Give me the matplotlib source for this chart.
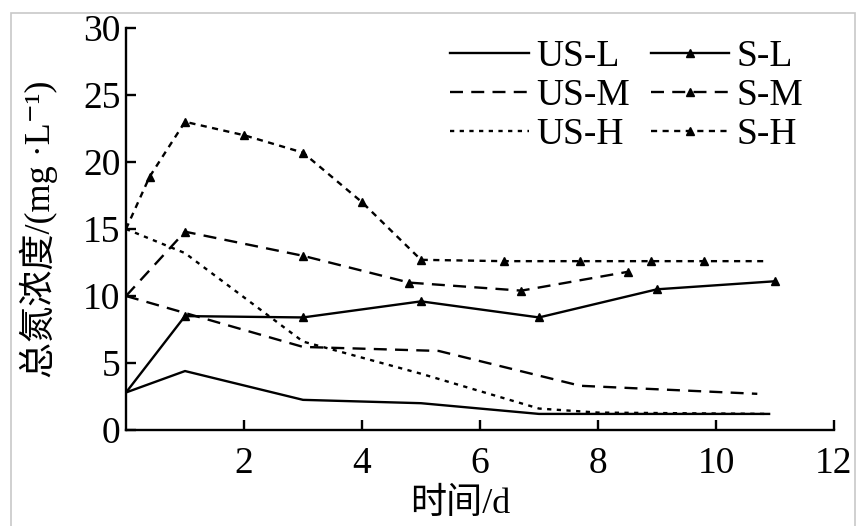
import matplotlib
matplotlib.use('Agg')
import matplotlib.pyplot as plt
from matplotlib.patches import Rectangle

plt.rcParams['font.family'] = ['Liberation Serif', 'Noto Sans CJK SC', 'DejaVu Serif']

# 数据
us_l_x = [0, 1, 3, 5, 7, 10.9]
us_l_y = [2.8, 4.4, 2.25, 2.0, 1.2, 1.2]
us_m_x = [0, 3, 5.3, 7.7, 10.7]
us_m_y = [10.0, 6.2, 5.9, 3.3, 2.7]
us_h_x = [0, 1, 3, 5, 7, 8, 10.9]
us_h_y = [15.0, 13.2, 6.6, 4.2, 1.6, 1.3, 1.2]
s_l_x = [0, 1, 3, 5, 7, 9, 11]
s_l_y = [2.8, 8.5, 8.4, 9.6, 8.4, 10.5, 11.1]
s_m_x = [0, 1, 3, 4.8, 6.7, 8.5]
s_m_y = [10.0, 14.8, 13.0, 11.0, 10.4, 11.8]
s_h_x = [0, 0.4, 1, 2, 3, 4, 5, 6.4, 7.7, 8.9, 9.8, 10.8]
s_h_y = [15.0, 18.9, 23.0, 22.0, 20.7, 17.0, 12.7, 12.6, 12.6, 12.6, 12.6, 12.6]

xticks = [2, 4, 6, 8, 10, 12]
yticks = [0, 5, 10, 15, 20, 25, 30]

fig = plt.figure(figsize=(8.56, 5.26), dpi=100)
fig.patches.append(Rectangle((11/856, -0.1), (855-11)/856, 1-13/526+0.1,
                             transform=fig.transFigure, fill=False,
                             edgecolor='#c8c8c8', linewidth=1.2))
ax = fig.add_axes([126/856, 1-430/526, (834-126)/856, 402/526])

lw = 1.7
dash = (5.5, 3.5)
dot = (1.8, 2.3)
ax.plot(us_l_x, us_l_y, color='black', lw=lw, label='US-L')
ax.plot(us_m_x, us_m_y, color='black', lw=lw, dashes=dash, label='US-M')
ax.plot(us_h_x, us_h_y, color='black', lw=lw, dashes=dot, label='US-H')
ax.plot(s_l_x, s_l_y, color='black', lw=lw, marker='^', ms=6,
        markevery=list(range(1, len(s_l_x))), label='S-L')
ax.plot(s_m_x, s_m_y, color='black', lw=lw, dashes=dash, marker='^', ms=6,
        markevery=list(range(1, len(s_m_x))), label='S-M')
ax.plot(s_h_x, s_h_y, color='black', lw=lw, dashes=(2.6, 2.3), marker='^', ms=6,
        markevery=list(range(1, len(s_h_x) - 1)), label='S-H')

ax.set_xlim(0, 12)
ax.set_ylim(0, 30)
ax.set_xticks(xticks)
ax.set_yticks(yticks)
ax.spines['top'].set_visible(False)
ax.spines['right'].set_visible(False)
for s in ['left', 'bottom']:
    ax.spines[s].set_linewidth(1.7)
ax.tick_params(direction='in', length=7, width=1.7, labelsize=27)
ax.tick_params(axis='x', pad=12)
ax.tick_params(axis='y', pad=4)

ax.set_ylabel('总氮浓度/(mg ·L⁻¹)', fontsize=26, labelpad=18)
ax.set_xlabel('时间/d', fontsize=26)
ax.xaxis.set_label_coords((460-126)/708, -0.145)

leg = ax.legend(ncol=2, frameon=False, fontsize=27, handlelength=2.1,
                handletextpad=0.2, columnspacing=0.55, labelspacing=0.12,
                numpoints=1, markerscale=0.9, borderpad=0, borderaxespad=0,
                loc='center left', bbox_to_anchor=(450/856, 1-96/526),
                bbox_transform=fig.transFigure)

fig.savefig('out.png', dpi=100)
